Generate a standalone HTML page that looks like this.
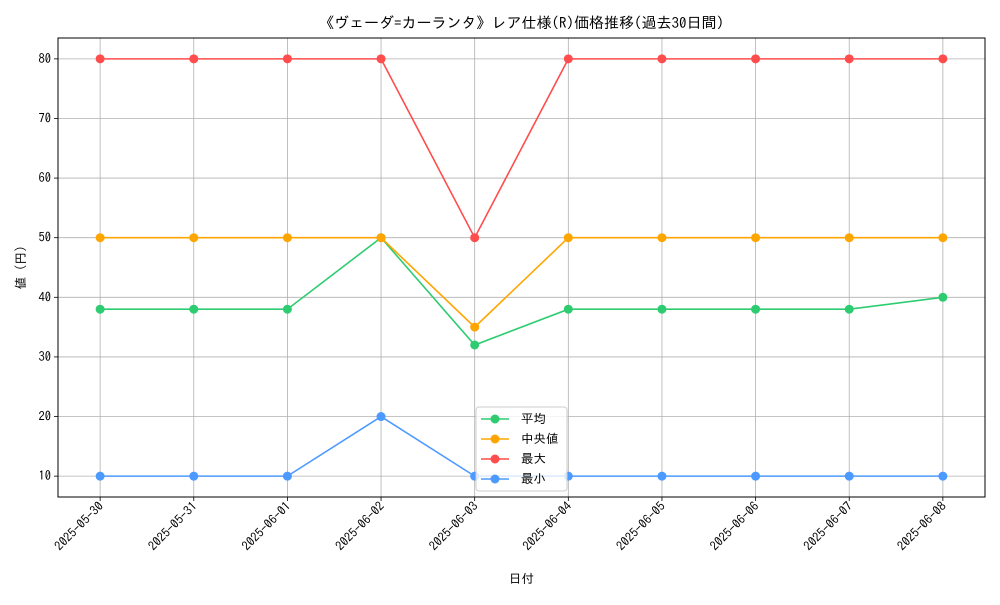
<!DOCTYPE html>
<html><head><meta charset="utf-8"><style>
body{margin:0;background:#fff}
svg{font-family:"IPAGothic","Liberation Sans","Noto Sans CJK JP",sans-serif}
</style></head><body>
<svg id="c" width="1000" height="600" xmlns="http://www.w3.org/2000/svg"></svg>
<script>
const categories=["2025-05-30","2025-05-31","2025-06-01","2025-06-02","2025-06-03","2025-06-04","2025-06-05","2025-06-06","2025-06-07","2025-06-08"];
const avgValues=[38,38,38,50,32,38,38,38,38,40];
const medianValues=[50,50,50,50,35,50,50,50,50,50];
const maxValues=[80,80,80,80,50,80,80,80,80,80];
const minValues=[10,10,10,20,10,10,10,10,10,10];
const yTicks=[10,20,30,40,50,60,70,80];
const seriesNames=["平均","中央値","最大","最小"];
const seriesColors=["#2ecc71","#ffa500","#ff4c4c","#4c9aff"];
const NS="http://www.w3.org/2000/svg";
const svg=document.getElementById('c');
const L=58,R=985,T=38,B=497;
const yMin=6.5,yMax=83.5;
const n=categories.length;
const xs=i=>L+(R-L)*(0.05+i/(n-1))/1.1;
const ys=v=>B-(v-yMin)/(yMax-yMin)*(B-T);
function mk(tag,attrs,parent){const e=document.createElementNS(NS,tag);for(const k in attrs)e.setAttribute(k,attrs[k]);(parent||svg).appendChild(e);return e;}
const grid=mk('g',{});


categories.forEach((c,i)=>{
  const x=xs(i);
  mk('line',{x1:x,x2:x,y1:T,y2:B,stroke:'#b0b0b0','stroke-width':0.8},grid);
  mk('line',{x1:x,x2:x,y1:B,y2:B+4,stroke:'#000','stroke-width':0.8});
  const ax=x+4, ay=B+10;
  const t=mk('text',{x:ax,y:ay,'font-size':12.5,'text-anchor':'end',transform:`rotate(-45 ${ax} ${ay})`});
  
  
  t.textContent=c;
});
yTicks.forEach(v=>{
  const y=ys(v);
  mk('line',{x1:L,x2:R,y1:y,y2:y,stroke:'#b0b0b0','stroke-width':0.8},grid);
  mk('line',{x1:L-4,x2:L,y1:y,y2:y,stroke:'#000','stroke-width':0.8});
  const t=mk('text',{x:L-7,y:y+4,'font-size':12.5,'text-anchor':'end'});
  
  
  t.textContent=v;
});
const series=[avgValues,medianValues,maxValues,minValues];
series.forEach((vals,s)=>{
  const g=mk('g',{});
  
  
  mk('polyline',{points:vals.map((v,i)=>xs(i)+','+ys(v)).join(' '),fill:'none',stroke:seriesColors[s],'stroke-width':1.6},g);
  vals.forEach((v,i)=>{const p=mk('circle',{cx:xs(i),cy:ys(v),r:4.5,fill:seriesColors[s]},g);
    
    });
});
const ax=mk('rect',{x:L,y:T,width:R-L,height:B-T,fill:'none',stroke:'#000','stroke-width':1});


const title=mk('text',{x:(L+R)/2,y:28,'font-size':15,'text-anchor':'middle'});


title.textContent='《ヴェーダ=カーランタ》レア仕様(R)価格推移(過去30日間)';
const xt=mk('text',{x:(L+R)/2,y:583,'font-size':12.5,'text-anchor':'middle'});


xt.textContent='日付';
const yt=mk('text',{x:25,y:(T+B)/2,'font-size':12.5,'text-anchor':'middle',transform:`rotate(-90 25 ${(T+B)/2})`});


yt.textContent='値 (円)';
const lg=mk('g',{});


mk('rect',{x:476,y:407,width:91,height:84,rx:3,fill:'rgba(255,255,255,0.8)',stroke:'#ccc'},lg);
seriesNames.forEach((nm,s)=>{
  const y=419+s*20;
  const e=mk('g',{},lg);
  
  
  mk('line',{x1:481,x2:509,y1:y,y2:y,stroke:seriesColors[s],'stroke-width':1.6},e);
  mk('circle',{cx:495,cy:y,r:4.5,fill:seriesColors[s]},e);
  const t=mk('text',{x:521,y:y+4,'font-size':12.5},e);
  t.textContent=nm;
});
</script>
</body></html>
